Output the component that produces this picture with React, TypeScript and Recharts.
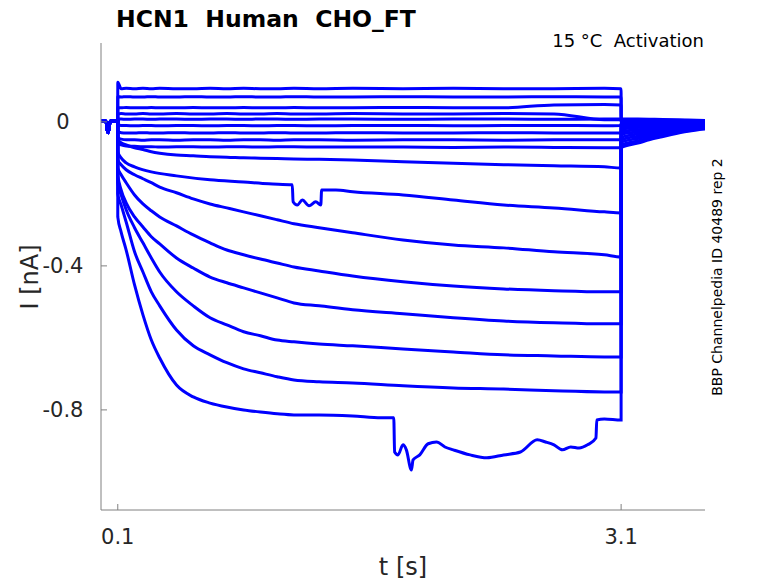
import React from 'react';
import { LineChart, Line, XAxis, YAxis } from 'recharts';

// ---------- data ----------
const X_TICKS = [0.1, 3.1];
const X_TICK_LABELS = ['0.1', '3.1'];
const Y_TICKS = [-0.8, -0.4, 0];
const Y_TICK_LABELS = ['-0.8', '-0.4', '0'];

// holding period before the step (shared by all sweeps)
const HOLD_T = [0, 0.03, 0.036, 0.042, 0.048, 0.055, 0.0999];
const HOLD_V = [0.002, 0.002, -0.02, -0.03, -0.018, 0.002, 0.002];

// common time grid of the test pulse
const STEP_T = [0.1, 0.12, 0.15, 0.2, 0.25, 0.3, 0.35, 0.45, 0.55, 0.65, 0.75, 0.85, 0.95, 1.05, 1.15, 1.3, 1.5, 1.8, 2.1, 2.4, 2.7, 3.0, 3.1];

const I1 = [0.11, 0.092, 0.093, 0.092, 0.093, 0.092, 0.093, 0.092, 0.092, 0.093, 0.092, 0.093, 0.092, 0.092, 0.093, 0.092, 0.093, 0.092, 0.093, 0.092, 0.092, 0.093, 0.092];
const I2 = [0.07, 0.069, 0.07, 0.069, 0.069, 0.07, 0.069, 0.069, 0.07, 0.069, 0.069, 0.07, 0.069, 0.069, 0.07, 0.069, 0.069, 0.07, 0.069, 0.069, 0.07, 0.069, 0.069];
const I3 = [0.04, 0.039, 0.04, 0.039, 0.039, 0.04, 0.039, 0.039, 0.04, 0.039, 0.039, 0.04, 0.039, 0.039, 0.04, 0.039, 0.039, 0.04, 0.039, 0.039, 0.047, 0.048, 0.047];
const I4 = [0.022, 0.023, 0.022, 0.022, 0.023, 0.022, 0.022, 0.023, 0.022, 0.022, 0.023, 0.022, 0.022, 0.023, 0.022, 0.022, 0.023, 0.022, 0.022, 0.023, 0.022, 0.006, 0.006];
const I5 = [0.008, 0.008, 0.007, 0.008, 0.008, 0.007, 0.008, 0.008, 0.007, 0.008, 0.008, 0.007, 0.008, 0.008, 0.007, 0.008, 0.008, 0.007, 0.008, 0.008, 0.007, 0.008, 0.008];
const I6 = [-0.008, -0.01, -0.01, -0.011, -0.01, -0.01, -0.011, -0.01, -0.01, -0.011, -0.01, -0.01, -0.011, -0.01, -0.01, -0.011, -0.01, -0.01, -0.011, -0.01, -0.01, -0.011, -0.01];
const I7 = [-0.028, -0.03, -0.031, -0.031, -0.03, -0.031, -0.031, -0.03, -0.031, -0.031, -0.03, -0.031, -0.031, -0.03, -0.031, -0.031, -0.03, -0.031, -0.031, -0.03, -0.031, -0.031, -0.031];
const I8 = [-0.045, -0.048, -0.05, -0.05, -0.051, -0.05, -0.05, -0.051, -0.05, -0.05, -0.051, -0.05, -0.05, -0.051, -0.05, -0.05, -0.051, -0.05, -0.05, -0.051, -0.05, -0.05, -0.05];
const I9 = [-0.06, -0.064, -0.067, -0.068, -0.069, -0.069, -0.07, -0.069, -0.069, -0.07, -0.069, -0.069, -0.07, -0.069, -0.069, -0.07, -0.07, -0.07, -0.071, -0.07, -0.071, -0.072, -0.072];
const I10 = [-0.05, -0.058, -0.064, -0.072, -0.077, -0.083, -0.087, -0.092, -0.094, -0.097, -0.098, -0.1, -0.101, -0.102, -0.103, -0.104, -0.106, -0.111, -0.115, -0.119, -0.122, -0.125, -0.128];
const I12 = [-0.106, -0.119, -0.133, -0.147, -0.158, -0.169, -0.181, -0.197, -0.214, -0.228, -0.239, -0.25, -0.261, -0.272, -0.283, -0.294, -0.308, -0.328, -0.342, -0.35, -0.361, -0.369, -0.375];
const I13 = [-0.128, -0.147, -0.169, -0.203, -0.228, -0.247, -0.264, -0.289, -0.314, -0.336, -0.356, -0.369, -0.381, -0.392, -0.403, -0.414, -0.428, -0.444, -0.456, -0.464, -0.469, -0.472, -0.472];
const I14 = [-0.147, -0.189, -0.225, -0.264, -0.292, -0.319, -0.339, -0.378, -0.406, -0.431, -0.447, -0.461, -0.475, -0.489, -0.503, -0.511, -0.522, -0.533, -0.544, -0.553, -0.558, -0.561, -0.561];
const I15 = [-0.169, -0.203, -0.244, -0.294, -0.336, -0.378, -0.417, -0.472, -0.511, -0.544, -0.564, -0.583, -0.594, -0.606, -0.611, -0.617, -0.622, -0.631, -0.639, -0.647, -0.65, -0.653, -0.653];
const I16 = [-0.2, -0.231, -0.278, -0.361, -0.417, -0.472, -0.511, -0.578, -0.622, -0.647, -0.669, -0.686, -0.697, -0.708, -0.717, -0.722, -0.725, -0.733, -0.739, -0.742, -0.747, -0.75, -0.75];

// sweeps with visible jumps get their own time points
const T11 = [0.1, 0.12, 0.15, 0.2, 0.3, 0.45, 0.65, 0.85, 1.0, 1.14, 1.145, 1.17, 1.2, 1.24, 1.28, 1.31, 1.315, 1.4, 1.5, 1.8, 2.1, 2.4, 2.7, 3.0, 3.1];
const I11 = [-0.083, -0.1, -0.114, -0.125, -0.139, -0.15, -0.161, -0.167, -0.172, -0.175, -0.222, -0.231, -0.217, -0.233, -0.222, -0.231, -0.189, -0.189, -0.194, -0.203, -0.217, -0.231, -0.239, -0.25, -0.253];
const T17 = [0.1, 0.12, 0.15, 0.2, 0.25, 0.3, 0.35, 0.45, 0.55, 0.65, 0.75, 0.85, 0.95, 1.05, 1.15, 1.3, 1.5, 1.67, 1.745, 1.75, 1.77, 1.8, 1.82, 1.85, 1.86, 1.9, 1.95, 2.0, 2.05, 2.1, 2.2, 2.3, 2.4, 2.5, 2.6, 2.65, 2.7, 2.75, 2.8, 2.85, 2.9, 2.95, 2.955, 3.0, 3.1];
const I17 = [-0.264, -0.306, -0.356, -0.453, -0.536, -0.606, -0.656, -0.731, -0.764, -0.781, -0.792, -0.8, -0.806, -0.811, -0.814, -0.814, -0.817, -0.822, -0.822, -0.917, -0.925, -0.897, -0.911, -0.967, -0.939, -0.925, -0.894, -0.889, -0.903, -0.911, -0.925, -0.933, -0.925, -0.917, -0.883, -0.889, -0.897, -0.911, -0.903, -0.906, -0.897, -0.878, -0.828, -0.825, -0.828];

// tail currents after the pulse
const TAIL_T = [3.1001, 3.2, 3.3, 3.4, 3.5, 3.6];
const TAIL1 = [0.008, 0.008, 0.007, 0.006, 0.005, 0.004];
const TAIL2 = [0.006, 0.006, 0.005, 0.005, 0.004, 0.004];
const TAIL3 = [0.004, 0.004, 0.004, 0.003, 0.003, 0.003];
const TAIL4 = [0.002, 0.002, 0.002, 0.002, 0.002, 0.002];
const TAIL5 = [0, 0, 0, 0, 0, 0];
const TAIL6 = [-0.003, -0.002, -0.002, -0.001, -0.001, 0];
const TAIL7 = [-0.006, -0.005, -0.004, -0.003, -0.002, -0.001];
const TAIL8 = [-0.01, -0.008, -0.006, -0.004, -0.003, -0.002];
const TAIL9 = [-0.015, -0.012, -0.009, -0.006, -0.004, -0.003];
const TAIL10 = [-0.02, -0.016, -0.012, -0.009, -0.006, -0.004];
const TAIL11 = [-0.028, -0.022, -0.017, -0.012, -0.008, -0.006];
const TAIL12 = [-0.035, -0.028, -0.021, -0.015, -0.01, -0.007];
const TAIL13 = [-0.043, -0.034, -0.026, -0.019, -0.013, -0.009];
const TAIL14 = [-0.05, -0.04, -0.031, -0.023, -0.016, -0.011];
const TAIL15 = [-0.057, -0.046, -0.036, -0.027, -0.019, -0.014];
const TAIL16 = [-0.065, -0.053, -0.041, -0.031, -0.022, -0.017];
const TAIL17 = [-0.072, -0.059, -0.046, -0.035, -0.026, -0.02];

const SWEEPS: [number[], number[], number[]][] = [
  [STEP_T, I1, TAIL1], [STEP_T, I2, TAIL2], [STEP_T, I3, TAIL3], [STEP_T, I4, TAIL4],
  [STEP_T, I5, TAIL5], [STEP_T, I6, TAIL6], [STEP_T, I7, TAIL7], [STEP_T, I8, TAIL8],
  [STEP_T, I9, TAIL9], [STEP_T, I10, TAIL10], [T11, I11, TAIL11], [STEP_T, I12, TAIL12],
  [STEP_T, I13, TAIL13], [STEP_T, I14, TAIL14], [STEP_T, I15, TAIL15], [STEP_T, I16, TAIL16],
  [T17, I17, TAIL17],
];

// ---------- layout / style ----------
const W = 778;
const H = 583;
const PLOT = { left: 101, top: 43, right: 705, bottom: 510 };
const FONT = 'DejaVu Sans';
const AXIS_COLOR = '#808080';
const TEXT_COLOR = '#262626';
const TRACE_COLOR = '#0000ff';

function buildSweep(stepT: number[], stepV: number[], tailV: number[]) {
  const pts: { t: number; v: number }[] = [];
  HOLD_T.forEach((t, i) => pts.push({ t, v: HOLD_V[i] }));
  stepT.forEach((t, i) => pts.push({ t, v: stepV[i] }));
  TAIL_T.forEach((t, i) => pts.push({ t, v: tailV[i] }));
  return pts;
}

const YTick = (props: any) => {
  const { y, payload } = props;
  const idx = Y_TICKS.indexOf(payload.value);
  return (
    <g>
      <line x1={PLOT.left} x2={PLOT.left + 6} y1={y} y2={y} stroke={AXIS_COLOR} strokeWidth={1} />
      <text x={63} y={y} textAnchor="middle" dominantBaseline="central" fontFamily={FONT} fontSize={21} fill={TEXT_COLOR}>
        {Y_TICK_LABELS[idx]}
      </text>
    </g>
  );
};

const XTick = (props: any) => {
  const { x, payload } = props;
  const idx = X_TICKS.indexOf(payload.value);
  return (
    <g>
      <line x1={x} x2={x} y1={PLOT.bottom} y2={PLOT.bottom - 6} stroke={AXIS_COLOR} strokeWidth={1} />
      <text x={x} y={537} textAnchor="middle" dominantBaseline="central" fontFamily={FONT} fontSize={21} fill={TEXT_COLOR}>
        {X_TICK_LABELS[idx]}
      </text>
    </g>
  );
};

export default function App() {
  const sweeps = SWEEPS.map(([t, v, tail]) => buildSweep(t, v, tail));
  return (
    <div style={{ position: 'absolute', left: 0, top: 0, width: W, height: H, background: '#fff' }}>
      <div style={{ position: 'absolute', left: 0, top: 0 }}>
        <LineChart
          width={W}
          height={H}
          margin={{ top: PLOT.top, right: W - PLOT.right, bottom: H - PLOT.bottom - 30, left: PLOT.left - 60 }}
        >
          <XAxis
            type="number"
            dataKey="t"
            domain={[0, 3.6]}
            allowDataOverflow
            ticks={X_TICKS}
            interval={0}
            height={30}
            axisLine={{ stroke: AXIS_COLOR, strokeWidth: 1 }}
            tickLine={false}
            tick={<XTick />}
          />
          <YAxis
            type="number"
            dataKey="v"
            domain={[-1.078, 0.219]}
            allowDataOverflow
            ticks={Y_TICKS}
            interval={0}
            width={60}
            axisLine={{ stroke: AXIS_COLOR, strokeWidth: 1 }}
            tickLine={false}
            tick={<YTick />}
          />
          {sweeps.map((d, i) => (
            <Line
              key={i}
              data={d}
              dataKey="v"
              type="monotoneX"
              stroke={TRACE_COLOR}
              strokeWidth={3}
              dot={false}
              activeDot={false}
              isAnimationActive={false}
            />
          ))}
        </LineChart>
      </div>
      <svg width={W} height={H} style={{ position: 'absolute', left: 0, top: 0, pointerEvents: 'none' }}>
        <text x={116} y={27} fontFamily={FONT} fontWeight="bold" fontSize={23.5} fill="#000" style={{ whiteSpace: 'pre' }}>
          {'HCN1  Human  CHO_FT'}
        </text>
        <text x={704} y={47} textAnchor="end" fontFamily={FONT} fontSize={18} fill="#000" style={{ whiteSpace: 'pre' }}>
          {'15 °C  Activation'}
        </text>
        <text x={403} y={567} textAnchor="middle" dominantBaseline="central" fontFamily={FONT} fontSize={24} fill={TEXT_COLOR}>
          t [s]
        </text>
        <text x={30} y={277} textAnchor="middle" dominantBaseline="central" fontFamily={FONT} fontSize={24} fill={TEXT_COLOR} transform="rotate(-90 30 277)">
          I [nA]
        </text>
        <text x={717} y={277} textAnchor="middle" dominantBaseline="central" fontFamily={FONT} fontSize={14} fill="#000" transform="rotate(-90 717 277)">
          BBP Channelpedia ID 40489 rep 2
        </text>
      </svg>
    </div>
  );
}
